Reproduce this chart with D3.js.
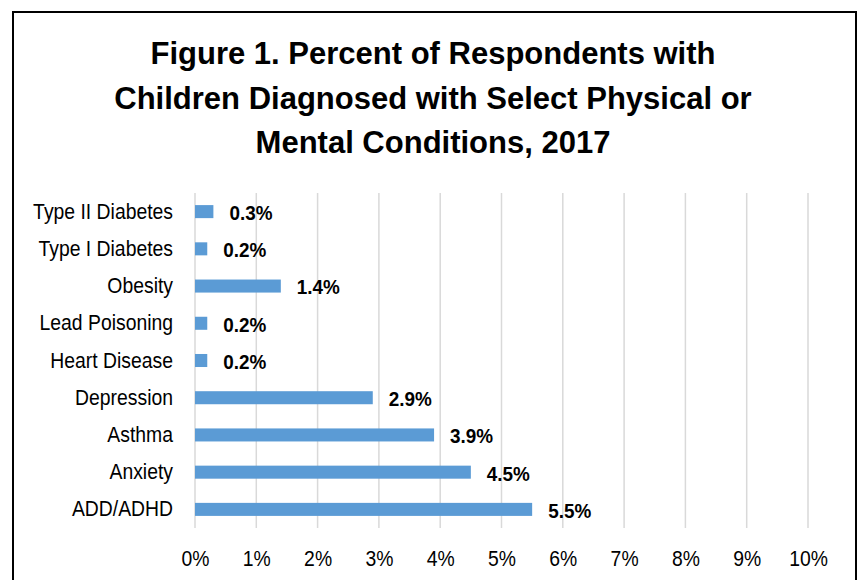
<!DOCTYPE html>
<html>
<head>
<meta charset="utf-8">
<script src="https://cdn.jsdelivr.net/npm/d3@7"></script>
<style>
  body { margin: 0; background: #fff; }
  svg { display: block; font-family: "Liberation Sans", Arial, sans-serif; }
</style>
</head>
<body>
<div class="chart"></div>
<script>
// data
const categories = ['Type II Diabetes', 'Type I Diabetes', 'Obesity', 'Lead Poisoning',
  'Heart Disease', 'Depression', 'Asthma', 'Anxiety', 'ADD/ADHD']
const values = [0.3, 0.2, 1.4, 0.2, 0.2, 2.9, 3.9, 4.5, 5.5]
const ticks = [0, 1, 2, 3, 4, 5, 6, 7, 8, 9, 10]
const titleLines = ['Figure 1. Percent of Respondents with',
  'Children Diagnosed with Select Physical or', 'Mental Conditions, 2017']

const W = 859, H = 580
const margin = {top: 193, right: 51, bottom: 52, left: 195}
const width = W - margin.left - margin.right
const height = H - margin.top - margin.bottom

// the original uses a narrow face; squeeze regular text sideways instead
const narrow = 0.88

const svg = d3.select('.chart')
  .append('svg')
    .attr('width', W)
    .attr('height', H)

// outer frame (bottom edge runs off the page)
svg.append('rect')
  .attr('x', 13).attr('y', 12)
  .attr('width', 843).attr('height', 600)
  .attr('fill', 'none')
  .attr('stroke', '#000')
  .attr('stroke-width', 2)

svg.append('g')
  .selectAll('text')
  .data(titleLines)
  .enter()
  .append('text')
    .attr('x', 433)
    .attr('y', (d, i) => 64 + i * 44.5)
    .attr('text-anchor', 'middle')
    .style('font-size', '31px')
    .style('font-weight', 'bold')
    .style('fill', '#000')
    .text(d => d)

const g = svg.append('g')
  .attr('transform', `translate(${margin.left}, ${margin.top})`)

const xScale = d3.scaleLinear()
  .domain([0, 10])
  .range([0, width])

const yScale = d3.scaleBand()
  .domain(categories)
  .range([0, height])
  .paddingInner(0.65)
  .paddingOuter(0.325)

// gridlines
g.append('g')
  .selectAll('line')
  .data(ticks)
  .enter()
  .append('line')
    .attr('x1', d => xScale(d))
    .attr('x2', d => xScale(d))
    .attr('y1', 0)
    .attr('y2', height)
    .attr('stroke', '#d9d9d9')
    .attr('stroke-width', 1.5)

// x axis labels
const xAxis = d3.axisBottom(xScale)
  .tickValues(ticks)
  .tickFormat(d => d + '%')
  .tickSize(0)
  .tickPadding(22)

g.append('g')
    .attr('transform', `translate(0, ${height})`)
  .call(xAxis)
  .call(a => a.select('.domain').remove())
  .selectAll('text')
    .attr('transform', `scale(${narrow}, 1)`)
    .style('font-size', '22px')
    .style('font-family', 'inherit')
    .style('fill', '#000')

// y axis labels
const yAxis = d3.axisLeft(yScale)
  .tickSize(0)
  .tickPadding(22)

g.append('g')
  .call(yAxis)
  .call(a => a.select('.domain').remove())
  .selectAll('text')
    .attr('x', -22 / narrow)
    .attr('transform', `scale(${narrow}, 1)`)
    .style('font-size', '22px')
    .style('font-family', 'inherit')
    .style('fill', '#000')

const rows = g.selectAll('.bar')
  .data(categories.map((c, i) => ({c, v: values[i]})))
  .enter()
  .append('g')
  .attr('class', 'bar')

rows.append('rect')
  .attr('x', 0)
  .attr('y', d => yScale(d.c))
  .attr('width', d => xScale(d.v))
  .attr('height', yScale.bandwidth())
  .style('fill', '#5b9bd5')

rows.append('text')
  .attr('x', d => (xScale(d.v) + 16) / 0.9)
  .attr('y', d => yScale(d.c) + yScale.bandwidth() / 2)
  .attr('dy', '0.4em')
  .attr('transform', 'scale(0.9, 1)')
  .style('font-size', '21px')
  .style('font-weight', 'bold')
  .style('fill', '#000')
  .text(d => d.v.toFixed(1) + '%')
</script>
</body>
</html>
